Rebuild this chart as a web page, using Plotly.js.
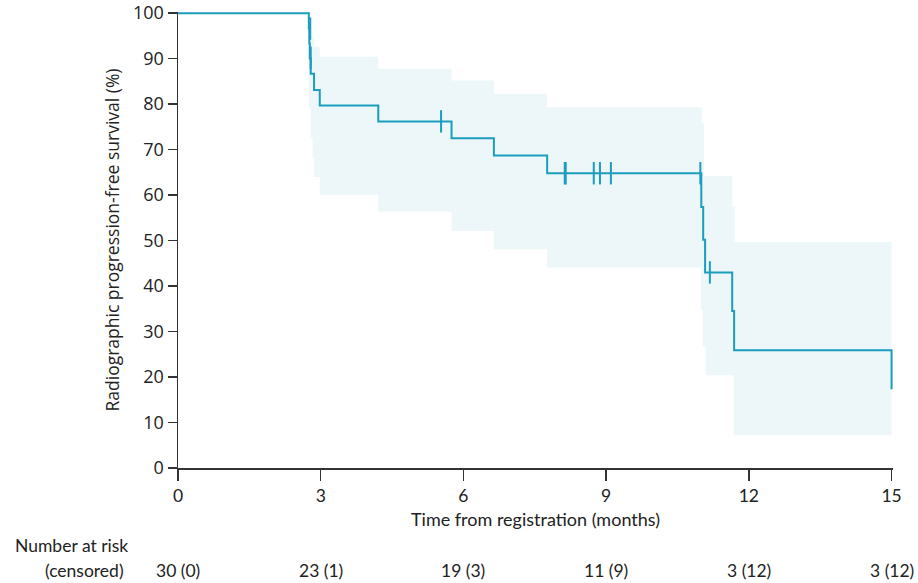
<!DOCTYPE html>
<html>
<head>
<meta charset="utf-8">
<script src="https://cdn.plot.ly/plotly-3.0.1.min.js"></script>
<style>html,body{margin:0;padding:0;background:#fff;}#chart{width:918px;height:583px;}</style>
</head>
<body>
<div id="chart"></div>
<script>
// Kaplan-Meier step curve (months, %)
var kmTime = [0, 2.75, 2.76, 2.77, 2.79, 2.86, 2.98, 4.21, 5.75, 6.64, 7.76, 11.0, 11.04, 11.08, 11.65, 11.69, 15.0];
var kmSurv = [100, 96.7, 93.3, 90.0, 86.7, 83.1, 79.7, 76.2, 72.5, 68.7, 64.8, 57.4, 50.2, 43.0, 34.5, 25.9, 17.3];

// Censoring marks
var censorTime = [2.78, 2.79, 5.53, 8.13, 8.15, 8.74, 8.87, 9.10, 10.98, 11.18];
var censorSurv = [96.6, 90.2, 76.2, 64.8, 64.8, 64.8, 64.8, 64.8, 64.8, 43.0];

// 95% confidence band
var bandTime  = [2.75, 2.79, 2.83, 2.86, 2.98, 4.21, 5.75, 6.64, 7.76, 10.99, 11.01, 11.03, 11.06, 11.09, 11.65, 11.68, 11.70, 15.0];
var bandUpper = [94.8, 94.8, 94.8, 92.6, 90.4, 87.8, 85.2, 82.3, 79.3, 79.3, 75.8, 75.8, 64.2, 64.2, 57.4, 57.4, 49.7, 49.7];
var bandLower = [79.1, 72.5, 68.1, 64.0, 60.1, 56.4, 52.1, 48.1, 44.1, 34.7, 34.7, 26.7, 26.7, 20.4, 20.4, 7.2, 7.2, 7.2];

// Number at risk table
var riskTimes  = [0, 3, 6, 9, 12, 15];
var riskLabels = ["30 (0)", "23 (1)", "19 (3)", "11 (9)", "3 (12)", "3 (12)"];

var xTicks = [0, 3, 6, 9, 12, 15];
var yTicks = [0, 10, 20, 30, 40, 50, 60, 70, 80, 90, 100];

var lineColor = "#1b9dbd";
var bandColor = "#edf6f8";
var txtFont = "Lato, 'Open Sans', sans-serif";
var numFont = "'Open Sans', sans-serif";

var traces = [
  {x: bandTime, y: bandLower, type: "scatter", mode: "lines", line: {shape: "hv", width: 0, color: bandColor}, hoverinfo: "skip", showlegend: false},
  {x: bandTime, y: bandUpper, type: "scatter", mode: "lines", line: {shape: "hv", width: 0, color: bandColor}, fill: "tonexty", fillcolor: bandColor, hoverinfo: "skip", showlegend: false},
  {x: kmTime, y: kmSurv, type: "scatter", mode: "lines", line: {shape: "hv", width: 2, color: lineColor}, showlegend: false},
  {x: censorTime, y: censorSurv, type: "scatter", mode: "markers", marker: {symbol: "line-ns", size: 16, color: lineColor, line: {width: 2, color: lineColor}}, cliponaxis: false, showlegend: false}
];

var annotations = [
  {text: "Number at risk", xref: "paper", yref: "paper", x: -0.231, y: -0.169, xanchor: "left", yanchor: "middle", showarrow: false, font: {family: txtFont, size: 17.5, color: "#222"}},
  {text: "(censored)", xref: "paper", yref: "paper", x: -0.0728, y: -0.224, xanchor: "right", yanchor: "middle", showarrow: false, font: {family: txtFont, size: 17.5, color: "#222"}}
];
for (var i = 0; i < riskTimes.length; i++) {
  annotations.push({text: riskLabels[i], xref: "x", yref: "paper", x: riskTimes[i], y: -0.224, xanchor: "center", yanchor: "middle", showarrow: false, font: {family: txtFont, size: 17.5, color: "#222"}});
}

var layout = {
  width: 918, height: 583,
  margin: {l: 178, r: 25, t: 12, b: 115},
  paper_bgcolor: "#fff", plot_bgcolor: "#fff",
  showlegend: false,
  xaxis: {
    range: [0, 15.03], tickvals: xTicks, ticktext: xTicks.map(String),
    showgrid: false, zeroline: false, showline: true, linecolor: "#333", linewidth: 1.5,
    ticks: "outside", ticklen: 11, tickwidth: 1.5, tickcolor: "#333",
    tickfont: {family: txtFont, size: 17.5, color: "#222"},
    title: {text: "Time from registration (months)", font: {family: txtFont, size: 18, color: "#222"}, standoff: 9}
  },
  yaxis: {
    range: [0, 100.25], tickvals: yTicks, ticktext: yTicks.map(String),
    showgrid: false, zeroline: false, showline: true, linecolor: "#333", linewidth: 1.5,
    ticks: "outside", ticklen: 9, tickwidth: 1.5, tickcolor: "#333",
    tickfont: {family: numFont, size: 18, color: "#222"},
    title: {text: "Radiographic progression-free survival (%)", font: {family: numFont, size: 17.5, color: "#222"}, standoff: 9}
  },
  annotations: annotations
};

Plotly.newPlot("chart", traces, layout, {displayModeBar: false, staticPlot: true});
</script>
</body>
</html>
